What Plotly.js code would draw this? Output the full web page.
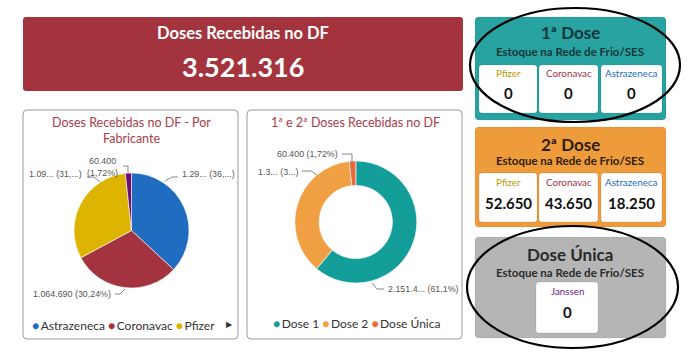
<!DOCTYPE html>
<html>
<head>
<meta charset="utf-8">
<script src="https://cdn.plot.ly/plotly-3.0.1.min.js"></script>
<style>
html,body{margin:0;padding:0;background:#fff;}
#chart{width:687px;height:354px;}
</style>
</head>
<body>
<div id="chart"></div>
<script>
// ---------- DATA ----------
var fabricantes = ["Astrazeneca", "Coronavac", "Pfizer", "Janssen"];
var dosesFabricante = [1299666, 1064690, 1096560, 60400];
var doseTipos = ["Dose 1", "Dose 2", "Dose Única"];
var dosesTipo = [2151416, 1309500, 60400];
var estoqueMarcas = ["Pfizer", "Coronavac", "Astrazeneca"];
var estoque1aDose = [0, 0, 0];
var estoque2aDose = [52650, 43650, 18250];
var estoqueUnicaMarcas = ["Janssen"];
var estoqueUnica = [0];

// ---------- helpers ----------
var W = 687, H = 354;
function X(p){return p/W;}
function Y(p){return 1-p/H;}
function fmtInt(n){return String(n).replace(/\B(?=(\d{3})+(?!\d))/g, ".");}
function fmtPct(v,total){
  var p = (v/total*100).toFixed(2).replace(/0+$/,"").replace(/\.$/,"");
  return p.replace(".", ",") + "%";
}
function trunc(s,n){return (n && s.length>n) ? s.slice(0,n)+"..." : s;}
function rrect(x0,y0,x1,y1,r){
  var a=X(x0),b=X(x1),c=Y(y0),d=Y(y1),rx=r/W,ry=r/H;
  return "M"+(a+rx)+","+c+" L"+(b-rx)+","+c+" Q"+b+","+c+" "+b+","+(c-ry)+
    " L"+b+","+(d+ry)+" Q"+b+","+d+" "+(b-rx)+","+d+" L"+(a+rx)+","+d+
    " Q"+a+","+d+" "+a+","+(d+ry)+" L"+a+","+(c-ry)+" Q"+a+","+c+" "+(a+rx)+","+c+" Z";
}
function poly(pts){
  return pts.map(function(p,i){return (i?"L":"M")+X(p[0])+","+Y(p[1]);}).join(" ");
}

var total1 = dosesFabricante.reduce(function(a,b){return a+b;},0);
var total2 = dosesTipo.reduce(function(a,b){return a+b;},0);

var FONT = "Segoe UI, Lato, 'Open Sans', sans-serif";
var LBLFONT = "'Liberation Sans', Arial, sans-serif";
var LBLSIZE = 8.9;

var colFab = ["#1F6CC0", "#A3333F", "#DDB400", "#6A0F78"];
var colTipo = ["#139E99", "#F0A042", "#E8693B"];

var shapes = [], ann = [];
function rect(x0,y0,x1,y1,r,fill,line,lw){
  shapes.push({type:"path", xref:"paper", yref:"paper", path:rrect(x0,y0,x1,y1,r),
    fillcolor:fill, line:{color:line||fill, width:lw==null?0:lw}, layer:"below"});
}
function txt(x,y,t,size,color,bold,anchor,fam){
  ann.push({xref:"paper", yref:"paper", x:X(x), y:Y(y), text: bold?"<b>"+t+"</b>":t,
    showarrow:false, xanchor:anchor||"center", yanchor:"middle",
    font:{family:fam||FONT, size:size, color:color}});
}
function lead(pts){
  shapes.push({type:"path", xref:"paper", yref:"paper", path:poly(pts),
    line:{color:"#888", width:1}});
}
function lbl(x,y,t,anchor){ txt(x,y,t,LBLSIZE,"#555",false,anchor,LBLFONT); }

// Top red card
rect(23,17,463,91,3,"#A3343E");
txt(243,33,"Doses Recebidas no DF",16.5,"#ffffff",true);
txt(243,67,fmtInt(total1),27,"#ffffff",true);

// Pie cards
rect(23,110,238,339,4,"#ffffff","#9a9a9a",1);
rect(247,110,462,339,4,"#ffffff","#9a9a9a",1);
txt(131,122,"Doses Recebidas no DF - Por",12.5,"#A8404A");
txt(131,138,"Fabricante",12.5,"#A8404A");
txt(355,122,"1ª e 2ª Doses Recebidas no DF",12.5,"#A8404A");

// Pie 1 labels
var lab1 = dosesFabricante.map(function(v){
  return {v:fmtInt(v), p:fmtPct(v,total1)};
});
lbl(180,174,trunc(lab1[0].v,4)+" ("+trunc(lab1[0].p,3)+")","left");
lead([[165,181],[172,177],[178,177]]);
lbl(113,294,lab1[1].v+" ("+lab1[1].p+")","right");
lead([[115,294],[120,294],[125,289]]);
lbl(84,174,trunc(lab1[2].v,4)+" ("+trunc(lab1[2].p,3)+")","right");
lead([[87,177],[94,177],[100,182]]);
lbl(102,161,lab1[3].v,"center");
lbl(102,173,"("+lab1[3].p+")","center");
lead([[123,166],[128,166],[128,173]]);

// Pie 2 labels
var lab2 = dosesTipo.map(function(v){
  return {v:fmtInt(v), p:fmtPct(v,total2)};
});
lbl(386,289,trunc(lab2[0].v,7)+" ("+lab2[0].p+")","left");
lead([[372,283],[377,289],[384,289]]);
lbl(300,172,trunc(lab2[1].v,3)+" ("+trunc(lab2[1].p,1)+")","right");
lead([[302,171],[311,171],[317,175]]);
lbl(340,154,lab2[2].v+" ("+lab2[2].p+")","right");
lead([[342,154],[352,154],[352,162]]);

// Legends
function leg(x,y,labels,cols){
  var s = labels.map(function(l,i){
    return "<span style='color:"+cols[i]+"'>●</span>\u2009"+l;
  }).join(" ");
  txt(x,y,s,12,"#333",false,"left");
}
leg(30,325,fabricantes.slice(0,3),colFab);
txt(229,324,"▶",8,"#333");
leg(271,323,doseTipos,colTipo);

// Right-side stock cards
var boxX = [[479,537],[539,598],[601,662]];
var labCols = ["#B59A00","#A3333F","#1F6CC0"];
function stockCard(y0,y1,fill,title,tcol,yt,ys,yb0,yb1,yl,yv,labels,vals,xs,lcols){
  rect(475,y0,666,y1,4,fill,"#00000022",0.5);
  txt(570,yt,title,17,tcol,true);
  txt(570,ys,"<b>Estoque na Rede de Frio/SES</b>",11.5,tcol,false);
  labels.forEach(function(l,i){
    rect(xs[i][0],yb0,xs[i][1],yb1,3,"#ffffff","#00000033",0.5);
    var cx=(xs[i][0]+xs[i][1])/2;
    txt(cx,yl,l,9.8,lcols[i]);
    txt(cx,yv,fmtInt(vals[i]),15,"#111",true);
  });
}
stockCard(17,120,"#29A2A2","1ª Dose","#143838",33,52,65,113,73,93,estoqueMarcas,estoque1aDose,boxX,labCols);
stockCard(127,227,"#EE9B3B","2ª Dose","#2e2008",144,160,173,222,182,203,estoqueMarcas,estoque2aDose,boxX,labCols);
stockCard(237,338,"#B5B5B5","Dose Única","#2a2a2a",254,272,282,333,291,312,estoqueUnicaMarcas,estoqueUnica,[[536,598]],["#6A1A80"]);

// Ellipses
shapes.push({type:"circle", xref:"paper", yref:"paper", x0:X(470), x1:X(680), y0:Y(122), y1:Y(8), line:{color:"#000", width:2.2}});
shapes.push({type:"circle", xref:"paper", yref:"paper", x0:X(467), x1:X(678), y0:Y(348), y1:Y(226), line:{color:"#000", width:2.2}});

// Pie domains (center & radius in px)
function dom(cx,cy,r){return {x:[X(cx-r),X(cx+r)], y:[Y(cy+r),Y(cy-r)]};}

var data = [
  {type:"pie", labels:fabricantes, values:dosesFabricante, sort:false, direction:"clockwise",
   rotation:0, textinfo:"none", hoverinfo:"label+value+percent",
   marker:{colors:colFab, line:{color:"#ffffff", width:0.6}},
   domain:dom(131.5,230.5,57.5), showlegend:false},
  {type:"pie", labels:doseTipos, values:dosesTipo, sort:false, direction:"clockwise",
   rotation:0, hole:0.6, textinfo:"none", hoverinfo:"label+value+percent",
   marker:{colors:colTipo, line:{color:"#ffffff", width:0.6}},
   domain:dom(355.8,222,61), showlegend:false}
];

var layout = {
  width:W, height:H, margin:{l:0,r:0,t:0,b:0},
  paper_bgcolor:"#ffffff", plot_bgcolor:"#ffffff",
  showlegend:false, shapes:shapes, annotations:ann,
  font:{family:FONT}
};
Plotly.newPlot("chart", data, layout, {displayModeBar:false, staticPlot:true});
</script>
</body>
</html>
